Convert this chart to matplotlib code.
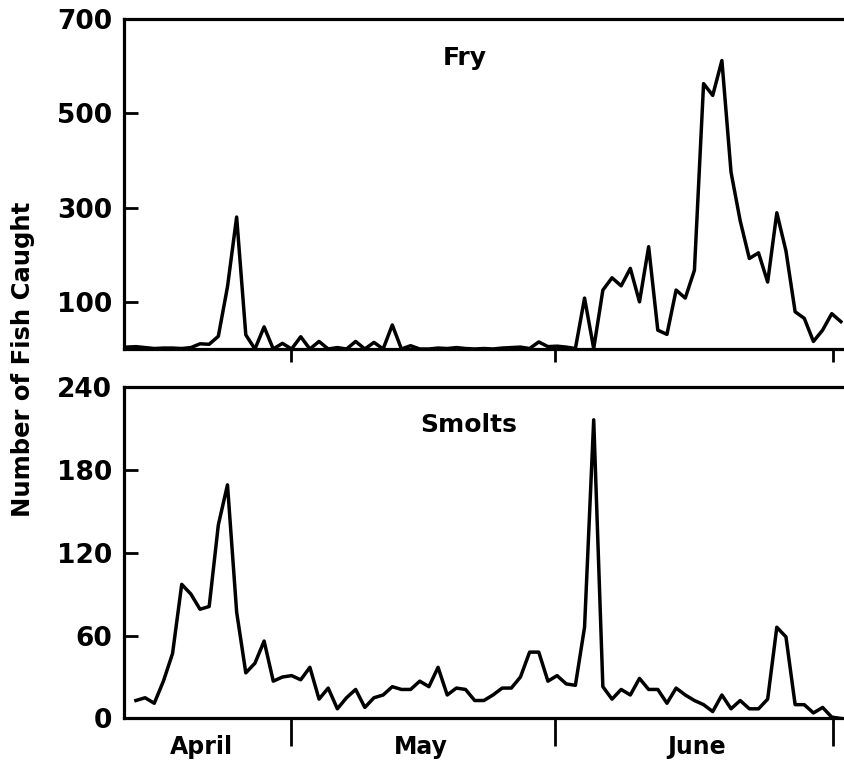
import numpy as np
import matplotlib.pyplot as plt

# daily catch, day 0 = first trap day in April
fry = [4, 5, 3, 1, 2, 2, 1, 3, 11, 10, 27, 132, 280, 30, 0, 47, 0, 12, 0, 26,
       0, 16, 0, 3, 0, 16, 0, 14, 0, 51, 0, 7, 0, 0, 2, 1, 3, 1, 0, 1,
       0, 2, 3, 4, 1, 15, 5, 6, 4, 1, 108, 1, 125, 151, 134, 171, 100, 217, 40, 31,
       125, 108, 167, 563, 538, 612, 375, 272, 192, 204, 142, 289, 208, 79, 65, 16, 40, 75, 58]
smolts = [13, 15, 11, 27, 47, 97, 90, 79, 81, 140, 169, 77, 33, 40, 56, 27, 30, 31, 28,
          37, 14, 22, 7, 15, 21, 8, 15, 17, 23, 21, 21, 27, 23, 37, 17, 22, 21, 13, 13,
          17, 22, 22, 30, 48, 48, 27, 31, 25, 24, 66, 216, 23, 14, 21, 17, 29, 21, 21, 11,
          22, 17, 13, 10, 5, 17, 7, 13, 7, 7, 14, 66, 59, 10, 10, 4, 8, 1, 0]
fry_days = np.arange(len(fry))
smolt_days = np.arange(1, len(smolts) + 1)

months = ['April', 'May', 'June']
month_mid = [8.2, 32.1, 62.2]
month_edges = [17.9, 46.8, 77.1]

fry_ticks = [100, 300, 500, 700]
smolt_ticks = [0, 60, 120, 180, 240]

plt.rcParams['font.family'] = 'DejaVu Sans'
plt.rcParams['font.weight'] = 'bold'

fig = plt.figure(figsize=(8.44, 7.62), dpi=100)
ax1 = fig.add_axes([0.1475, 0.542, 0.851, 0.433])
ax2 = fig.add_axes([0.1475, 0.0571, 0.851, 0.4355])


def style(ax, ticks, tick_len):
    for s in ['left', 'top', 'bottom']:
        ax.spines[s].set_linewidth(2.3)
    ax.spines['right'].set_visible(False)
    ax.set_xlim(-0.25, 78.2)
    ax.set_yticks(ticks)
    ax.tick_params(axis='y', direction='in', length=10, width=2, pad=9,
                   labelsize=19)
    ax.set_xticks(month_edges, minor=True)
    ax.tick_params(axis='x', which='minor', direction='out', length=tick_len, width=2)


ax1.plot(fry_days, fry, color='black', lw=2.5)
ax1.set_ylim(0, 700)
style(ax1, fry_ticks, 9)
ax1.set_xticks([])
ax1.text(36.9, 618, 'Fry', ha='center', va='center', fontsize=18, fontweight='bold')

ax2.plot(smolt_days, smolts, color='black', lw=2.5)
ax2.set_ylim(0, 240)
style(ax2, smolt_ticks, 20)
ax2.set_xticks(month_mid, months)
ax2.tick_params(axis='x', which='major', length=0, pad=12, labelsize=17)
ax2.text(37.3, 212, 'Smolts', ha='center', va='center', fontsize=18, fontweight='bold')

fig.text(0.027, 0.529, 'Number of Fish Caught', rotation=90, ha='center', va='center',
         fontsize=17.5, fontweight='bold')

plt.savefig('out.png', dpi=100)
